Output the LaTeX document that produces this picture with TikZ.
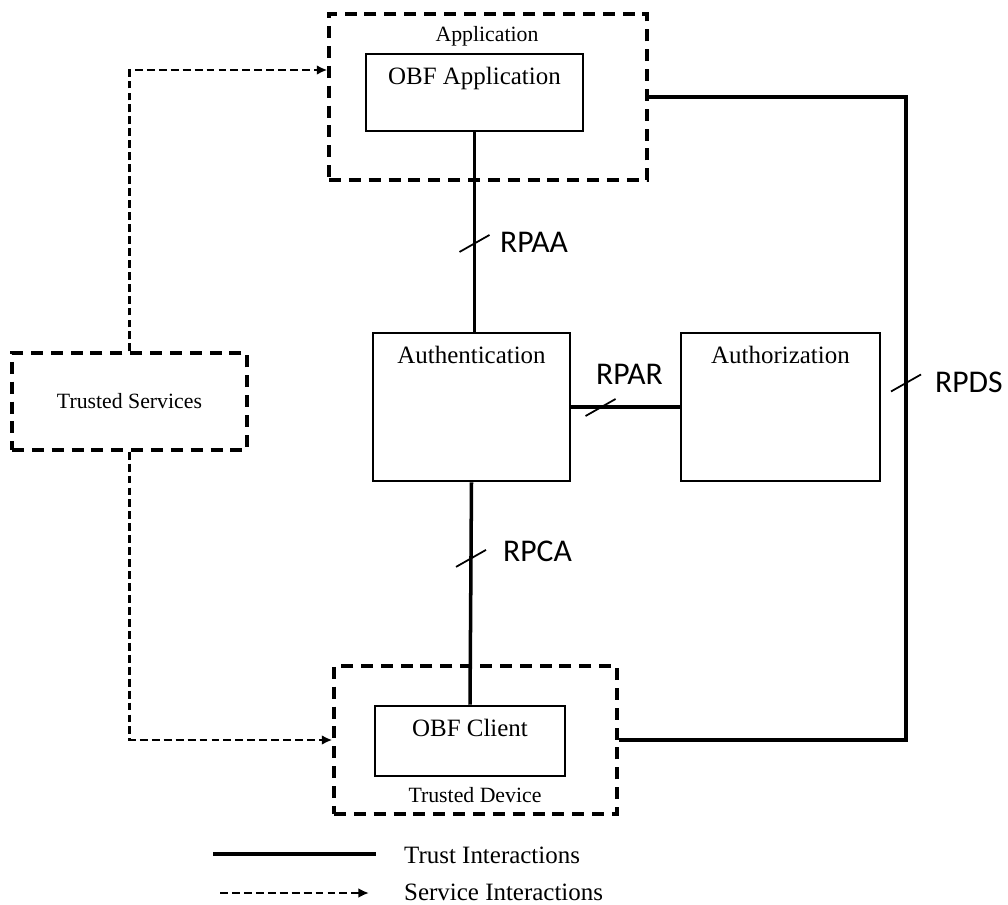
\documentclass[tikz,border=0pt]{standalone}
\usepackage{fontspec}
\setmainfont{Liberation Serif}
\newfontfamily\rpfont{Carlito}
\usetikzlibrary{positioning,arrows.meta}

\begin{document}
\begin{tikzpicture}[
    x=0.02cm, y=-0.02cm,
    node distance=5pt,
    block/.style={rectangle, draw, line width=1.5pt, inner sep=0pt},
    zone/.style={rectangle, draw, line width=1.9pt, dash pattern=on 6.8pt off 4.5pt, inner sep=0pt},
    boxtext/.style={font=\fontsize{14.2}{16}\selectfont},
    zonetext/.style={font=\fontsize{12.4}{14}\selectfont},
    rplabel/.style={anchor=west, font=\rpfont\fontsize{18}{20}\selectfont},
    trust/.style={line width=2pt},
    svc/.style={line width=1.4pt, dash pattern=on 4.5pt off 2.3pt, -{Latex[length=6pt,width=5.5pt]}},
    tickmark/.style={line width=1pt}
]
\useasboundingbox (0,0) rectangle (1008,905);

% === APPLICATION SIDE ===
\node[zone, minimum width=6.36cm, minimum height=3.32cm] (app) at (488,97) {};
\node[zonetext] at (487,36) {Application};
\node[block, minimum width=4.34cm, minimum height=1.54cm] (obfapp) at (474.5,92.5) {};
\node[boxtext, below=of obfapp.north] {OBF Application};

% === AUTH BOXES ===
\node[block, minimum width=3.94cm, minimum height=2.96cm] (auth) at (471.5,407) {};
\node[boxtext, below=of auth.north] {Authentication};
\node[block, minimum width=3.98cm, minimum height=2.96cm] (authz) at (780.5,407) {};
\node[boxtext, below=of authz.north] {Authorization};

% === DEVICE SIDE ===
\node[zone, minimum width=5.66cm, minimum height=2.96cm] (td) at (475.5,740) {};
\node[block, minimum width=3.8cm, minimum height=1.4cm] (client) at (470,741) {};
\node[boxtext, below=of client.north] {OBF Client};
\node[zonetext] at (475,795) {Trusted Device};

% Trusted services
\node[zone, zonetext, minimum width=4.7cm, minimum height=1.94cm] (ts) at (129.5,401.5) {Trusted Services};

% === TRUST INTERACTIONS ===
\draw[trust] (obfapp.south) -- coordinate[pos=0.555] (tk1) (obfapp.south |- auth.north);
\draw[trust] (auth.east) -- coordinate[pos=0.27] (tk2) (authz.west);
\draw[trust] (auth.south) -- coordinate[pos=0.34] (tk3) (client.north);
\coordinate (rtop) at (906,97);
\draw[trust] (app.east) -- (rtop) -- coordinate[pos=0.444] (tk4) (rtop |- td.east) -- (td.east);

% slashes and reference points
\foreach \t in {tk1, tk2, tk3, tk4} {
    \draw[tickmark] (\t) +(-15,9) -- +(15,-8);
}
\node[rplabel] at (494,242) {RPAA};
\node[rplabel] at (590,374) {RPAR};
\node[rplabel] at (497,551) {RPCA};
\node[rplabel] at (929,382) {RPDS};

% === SERVICE INTERACTIONS ===
\draw[svc] (ts.north) |- ([yshift=0.54cm]app.west);
\draw[svc] (ts.south) |- (td.west);

% === LEGEND ===
\coordinate (lga) at (213,854);
\coordinate (lgb) at (376,854);
\coordinate (lgc) at (220,893);
\coordinate (lgd) at (369,893);
\draw[trust] (lga) -- (lgb);
\draw[svc] (lgc) -- (lgd);
\node[boxtext, anchor=west] at (398,855) {Trust Interactions};
\node[boxtext, anchor=west] at (398,892) {Service Interactions};

\end{tikzpicture}
\end{document}
